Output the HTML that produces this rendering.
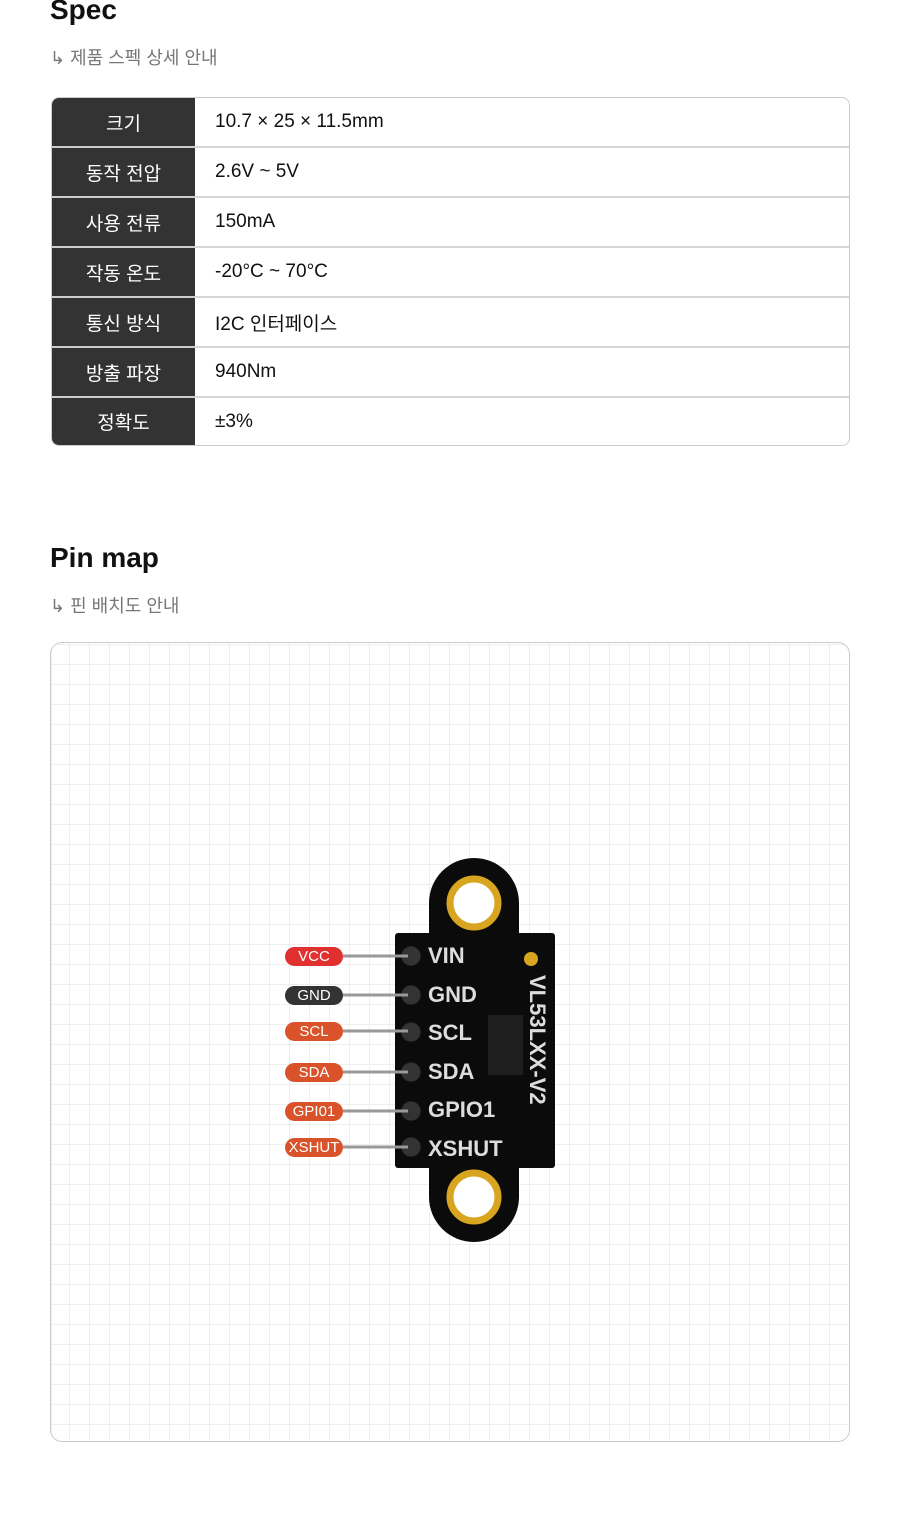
<!DOCTYPE html>
<html><head><meta charset="utf-8"><style>
body{margin:0;background:#fff;width:900px;height:1539px;position:relative;font-family:"Liberation Sans","Noto Sans CJK KR",sans-serif;overflow:hidden}
h2{position:absolute;left:50px;margin:0;font-size:28px;font-weight:bold;color:#111}
.sub{position:absolute;left:50px;font-size:18px;color:#777}
table{position:absolute;left:51px;top:97px;width:799px;border-collapse:separate;border-spacing:0;border:1px solid #ccc;border-radius:8px;overflow:hidden}
td{height:48px;border-bottom:2px solid #d6d6d6;font-size:19px;padding:0}
tr:last-child td{border-bottom:none;height:47px}
td.k{width:143px;background:#333;color:#fff;text-align:center;border-bottom-color:#ccc}
td.v{padding-left:20px;color:#111}
.grid{position:absolute;left:50px;top:642px;width:798px;height:798px;border:1px solid #ccc;border-radius:12px;
background-image:repeating-linear-gradient(90deg,transparent 0 17px,#efefef 17px 18px,transparent 18px 20px),repeating-linear-gradient(0deg,transparent 0 17px,#efefef 17px 18px,transparent 18px 20px);background-position:1px 1px}
</style></head><body>
<h2 style="top:-6px">Spec</h2>
<div class="sub" style="top:44px">↳ 제품 스펙 상세 안내</div>
<table>
<tr><td class="k">크기</td><td class="v">10.7 × 25 × 11.5mm</td></tr>
<tr><td class="k">동작 전압</td><td class="v">2.6V ~ 5V</td></tr>
<tr><td class="k">사용 전류</td><td class="v">150mA</td></tr>
<tr><td class="k">작동 온도</td><td class="v">-20°C ~ 70°C</td></tr>
<tr><td class="k">통신 방식</td><td class="v">I2C 인터페이스</td></tr>
<tr><td class="k">방출 파장</td><td class="v">940Nm</td></tr>
<tr><td class="k">정확도</td><td class="v">±3%</td></tr>
</table>
<h2 style="top:542px">Pin map</h2>
<div class="sub" style="top:592px">↳ 핀 배치도 안내</div>
<div class="grid"></div>
<svg style="position:absolute;left:0;top:0" width="900" height="1539">
<g fill="#0b0b0b">
<circle cx="474" cy="903" r="45"/><circle cx="474" cy="1197" r="45"/>
<rect x="429" y="903" width="90" height="294"/>
<rect x="395" y="933" width="160" height="235" rx="3"/>
</g>
<circle cx="474" cy="903" r="24" fill="#fff" stroke="#d8a520" stroke-width="7"/>
<circle cx="474" cy="1197" r="24" fill="#fff" stroke="#d8a520" stroke-width="7"/>
<circle cx="531" cy="959" r="7" fill="#d8a520"/>
<rect x="488" y="1015" width="35" height="60" fill="#1e1e1e"/>
<g fill="#ddd" font-family="Liberation Sans,sans-serif" font-weight="bold" font-size="22">
<text x="428" y="963">VIN</text><text x="428" y="1002">GND</text><text x="428" y="1040">SCL</text>
<text x="428" y="1079">SDA</text><text x="428" y="1117">GPIO1</text><text x="428" y="1156">XSHUT</text>
<text transform="translate(530,975) rotate(90)">VL53LXX-V2</text>
</g>
<g fill="#333" stroke="#111"><circle cx="411" cy="956" r="10"/><circle cx="411" cy="995" r="10"/><circle cx="411" cy="1032" r="10"/><circle cx="411" cy="1072" r="10"/><circle cx="411" cy="1111" r="10"/><circle cx="411" cy="1147" r="10"/></g>
<g stroke="#999" stroke-width="3"><line x1="343" y1="956" x2="408" y2="956"/><line x1="343" y1="995" x2="408" y2="995"/><line x1="343" y1="1031" x2="408" y2="1031"/><line x1="343" y1="1072" x2="408" y2="1072"/><line x1="343" y1="1111" x2="408" y2="1111"/><line x1="343" y1="1147" x2="408" y2="1147"/></g>
<g font-size="15" fill="#fff" text-anchor="middle">
<rect x="285" y="947" width="58" height="19" rx="9.5" fill="#e03030"/><text x="314" y="961">VCC</text>
<rect x="285" y="986" width="58" height="19" rx="9.5" fill="#333"/><text x="314" y="1000">GND</text>
<rect x="285" y="1022" width="58" height="19" rx="9.5" fill="#d9522a"/><text x="314" y="1036">SCL</text>
<rect x="285" y="1063" width="58" height="19" rx="9.5" fill="#d9522a"/><text x="314" y="1077">SDA</text>
<rect x="285" y="1102" width="58" height="19" rx="9.5" fill="#d9522a"/><text x="314" y="1116">GPI01</text>
<rect x="285" y="1138" width="58" height="19" rx="9.5" fill="#d9522a"/><text x="314" y="1152">XSHUT</text>
</g>
</svg>
</body></html>
